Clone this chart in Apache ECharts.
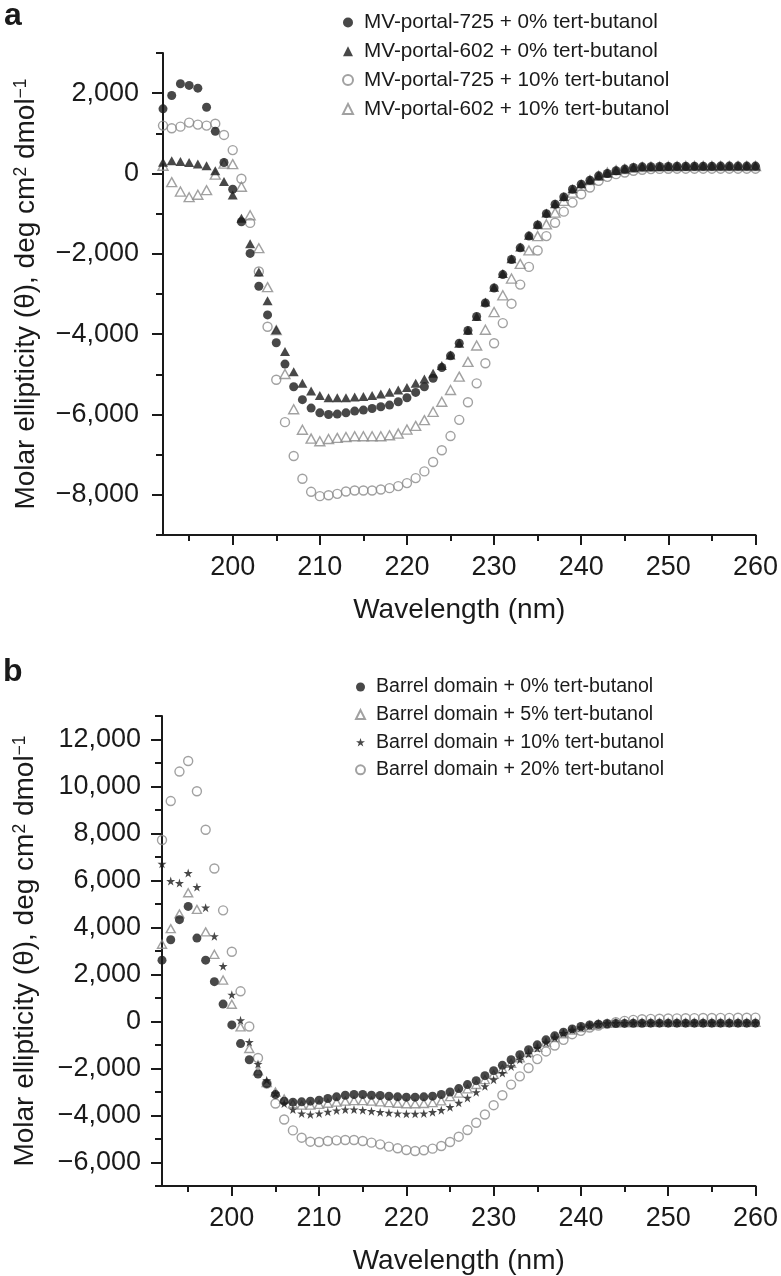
<!DOCTYPE html>
<html><head><meta charset="utf-8">
<script src="https://cdn.jsdelivr.net/npm/echarts@6/dist/echarts.min.js"></script>
<style>html,body{margin:0;padding:0;background:#fff}#c{width:781px;height:1276px}</style>
</head><body><div id="c"></div>
<script>
// ---------- data ----------
const wavelengths = [192,193,194,195,196,197,198,199,200,201,202,203,204,205,206,207,208,209,210,211,
  212,213,214,215,216,217,218,219,220,221,222,223,224,225,226,227,228,229,230,231,
  232,233,234,235,236,237,238,239,240,241,242,243,244,245,246,247,248,249,250,251,
  252,253,254,255,256,257,258,259,260];

const xTickValues = [200,210,220,230,240,250,260];
const xMinorTicks = [195,205,215,225,235,245,255];
const yTicksA = [-8000,-6000,-4000,-2000,0,2000];
const yMinorA = [-9000,-7000,-5000,-3000,-1000,1000,3000];
const yTicksB = [-6000,-4000,-2000,0,2000,4000,6000,8000,10000,12000];
const yMinorB = [-7000,-5000,-3000,-1000,1000,3000,5000,7000,9000,11000,13000];

const namesA = ['MV-portal-725 + 0% tert-butanol','MV-portal-602 + 0% tert-butanol',
  'MV-portal-725 + 10% tert-butanol','MV-portal-602 + 10% tert-butanol'];
const namesB = ['Barrel domain + 0% tert-butanol','Barrel domain + 5% tert-butanol',
  'Barrel domain + 10% tert-butanol','Barrel domain + 20% tert-butanol'];

const portal725_0 = [1610,1943,2235,2193,2125,1650,1050,275,-391,-1200,
  -1990,-2808,-3520,-4215,-4745,-5308,-5630,-5840,-5958,-6000,
  -5990,-5958,-5915,-5890,-5850,-5808,-5765,-5683,-5583,-5450,
  -5308,-5100,-4830,-4540,-4225,-3910,-3560,-3225,-2850,-2516,
  -2141,-1850,-1558,-1283,-1000,-766,-583,-391,-266,-166,
  -58,0,68,110,150,
  165,170,175,175,180,180,180,180,180,185,185,185,185,185];
const portal602_0 = [280,318,300,275,235,193,68,-200,-533,-1115,
  -1750,-2450,-3166,-3890,-4433,-4933,-5225,-5416,-5530,-5580,
  -5583,-5583,-5563,-5550,-5530,-5490,-5445,-5391,-5325,-5225,
  -5117,-4975,-4783,-4516,-4225,-3900,-3560,-3200,-2830,-2490,
  -2120,-1830,-1540,-1265,-985,-750,-570,-380,-255,-160,
  -55,10,75,115,150,
  165,170,175,180,180,180,185,185,185,185,185,185,185,185];
const portal725_10 = [1192,1125,1167,1267,1217,1192,1240,960,583,-130,
  -1230,-2440,-3815,-5135,-6190,-7033,-7600,-7925,-8033,-8010,
  -7975,-7916,-7891,-7891,-7891,-7866,-7833,-7783,-7708,-7583,
  -7416,-7183,-6891,-6537,-6133,-5695,-5225,-4725,-4225,-3725,
  -3241,-2766,-2325,-1916,-1558,-1225,-950,-725,-516,-350,
  -183,-83,-16,25,68,
  92,110,115,118,120,120,120,120,120,120,120,120,120,120];
const portal602_10 = [193,-215,-450,-590,-530,-416,-30,245,233,-330,
  -1040,-1860,-2830,-3900,-4991,-5870,-6380,-6600,-6666,-6610,
  -6583,-6560,-6541,-6541,-6541,-6541,-6516,-6475,-6375,-6283,
  -6141,-5933,-5683,-5391,-5058,-4690,-4283,-3891,-3450,-3033,
  -2616,-2250,-1916,-1558,-1266,-975,-683,-475,-308,-166,
  -58,25,83,110,140,
  160,170,175,180,180,185,185,185,185,185,185,185,185,185];

const barrel_0 = [2610,3480,4335,4898,3550,2610,1695,740,-144,-940,
  -1630,-2232,-2644,-3110,-3390,-3432,-3418,-3390,-3347,-3277,
  -3206,-3136,-3107,-3107,-3136,-3150,-3178,-3206,-3220,-3220,
  -3206,-3178,-3107,-3000,-2856,-2686,-2516,-2305,-2093,-1867,
  -1627,-1415,-1204,-992,-781,-610,-455,-314,-215,-145,
  -116,
  -95,-85,-80,-75,-75,-70,-70,-70,-70,-70,-70,-70,-70,-70,-70,-70,-70,-70];
const barrel_5 = [3288,3953,4576,5479,4771,3813,2860,1763,733,-230,
  -1150,-2100,-2600,-3000,-3300,-3500,-3560,-3560,-3530,-3480,
  -3430,-3390,-3370,-3370,-3390,-3420,-3450,-3480,-3500,-3500,
  -3490,-3450,-3380,-3200,-3050,-2870,-2680,-2470,-2250,-2020,
  -1780,-1550,-1320,-1100,-880,-690,-520,-370,-260,-170,
  -110,
  -80,-60,-50,-45,-40,-40,-40,-40,-40,-40,-40,-40,-40,-40,-40,-40,-40,-40];
const barrel_10 = [6708,5975,5890,6314,5720,4843,3627,2356,1140,50,
  -880,-1810,-2500,-3060,-3490,-3745,-3915,-3957,-3915,-3843,
  -3787,-3745,-3745,-3773,-3815,-3858,-3886,-3915,-3930,-3930,
  -3915,-3858,-3773,-3646,-3462,-3250,-3010,-2756,-2474,-2192,
  -1910,-1627,-1373,-1133,-893,-681,-497,-356,-257,-172,
  -110,
  -80,-70,-65,-60,-60,-60,-60,-60,-60,-60,-60,-60,-60,-60,-60,-60,-60,-60];
const barrel_20 = [7725,9380,10636,11085,9800,8161,6510,4729,2966,1285,
  -212,-1554,-2644,-3490,-4169,-4635,-4944,-5114,-5128,-5086,
  -5058,-5044,-5044,-5086,-5156,-5227,-5326,-5396,-5467,-5509,
  -5481,-5410,-5298,-5128,-4902,-4620,-4310,-3957,-3561,-3138,
  -2686,-2333,-1980,-1599,-1274,-1020,-781,-540,-398,-257,
  -172,-102,-31,25,68,96,
  110,120,130,135,140,145,150,150,155,155,160,160,165];

// ---------- styling ----------
const FONT = '"Liberation Sans", Arial, Helvetica, sans-serif';
const INK = '#1a1a1a';
const GRAY = '#8a8a8a';
const STAR = 'path://M50,0 L61.2,34.5 L97.6,34.5 L68.2,55.9 L79.4,90.5 L50,69.1 L20.6,90.5 L31.8,55.9 L2.4,34.5 L38.8,34.5 Z';

const pts = arr => wavelengths.map((w, i) => [w, arr[i]]);
const fmtY = v => v === 0 ? '0' : (v < 0 ? '\u2212' : '') + Math.abs(v).toLocaleString('en-US');

const axisLine = { show: true, onZero: false, lineStyle: { color: INK, width: 2 } };

function xAxes(gi) {
  return [
    { gridIndex: gi, type: 'value', min: 192, max: 260, position: 'bottom',
      axisLine: axisLine, splitLine: { show: false },
      axisTick: { customValues: xTickValues, length: 10, lineStyle: { color: INK, width: 2 } },
      axisLabel: { customValues: xTickValues, fontSize: 27, color: INK, fontFamily: FONT, margin: 19 },
      name: 'Wavelength (nm)', nameLocation: 'middle', nameGap: 61,
      nameTextStyle: { fontSize: 28, color: INK, fontFamily: FONT } },
    { gridIndex: gi, type: 'value', min: 192, max: 260, position: 'bottom',
      axisLine: { show: false, onZero: false }, splitLine: { show: false },
      axisTick: { customValues: xMinorTicks, length: 6, lineStyle: { color: INK, width: 2 } },
      axisLabel: { show: false } }
  ];
}
function yAxes(gi, min, max, ticks, minor, margin) {
  return [
    { gridIndex: gi, type: 'value', min: min, max: max, position: 'left',
      axisLine: axisLine, splitLine: { show: false },
      axisTick: { customValues: ticks, length: 11, lineStyle: { color: INK, width: 2 } },
      axisLabel: { customValues: ticks, formatter: fmtY, fontSize: 27, color: INK, fontFamily: FONT, margin: margin },
      name: '{t|Molar ellipticity (\u03b8), deg cm}{s|2}{t| dmol}{s|\u22121}',
      nameLocation: 'middle', nameGap: 123,
      nameTextStyle: { fontSize: 28, color: INK, fontFamily: FONT,
        rich: { t: { fontSize: 28, color: INK, fontFamily: FONT },
                s: { fontSize: 17.5, color: INK, fontFamily: FONT, verticalAlign: 'top' } } } },
    { gridIndex: gi, type: 'value', min: min, max: max, position: 'left',
      axisLine: { show: false, onZero: false }, splitLine: { show: false },
      axisTick: { customValues: minor, length: 7, lineStyle: { color: INK, width: 2 } },
      axisLabel: { show: false } }
  ];
}

function sc(name, data, xi, yi, symbol, size, filled, z) {
  return {
    type: 'scatter', name: name, data: pts(data), xAxisIndex: xi, yAxisIndex: yi,
    symbol: symbol, symbolSize: size, z: z,
    itemStyle: filled ? { color: INK, borderWidth: 0 }
                      : { color: 'rgba(255,255,255,0)', borderColor: GRAY, borderWidth: 1.4 },
    emphasis: { disabled: true }
  };
}

const option = {
  animation: false,
  backgroundColor: '#fff',
  grid: [
    { left: 163, top: 53, width: 597, height: 482 },
    { left: 162, top: 716, width: 598, height: 472 }
  ],
  xAxis: [...xAxes(0), ...xAxes(1)],
  yAxis: [...yAxes(0, -9000, 3000, yTicksA, yMinorA, 24), ...yAxes(1, -7000, 13000, yTicksB, yMinorB, 21)],
  legend: [
    { data: namesA, orient: 'vertical', left: 342, top: 12, padding: 0, itemWidth: 10, itemHeight: 10, itemGap: 7.8,
      textStyle: { fontSize: 20.7, color: INK, fontFamily: FONT, padding: [0, 0, 0, 6] }, selectedMode: false },
    { data: namesB, orient: 'vertical', left: 355, top: 677, padding: 0, itemWidth: 9, itemHeight: 9, itemGap: 7.6,
      textStyle: { fontSize: 19.6, color: INK, fontFamily: FONT, padding: [0, 0, 0, 6] }, selectedMode: false }
  ],
  graphic: [
    { type: 'text', left: 4, top: 0, style: { text: 'a', font: 'bold 32px ' + FONT, fill: INK } },
    { type: 'text', left: 3, top: 656, style: { text: 'b', font: 'bold 32px ' + FONT, fill: INK } }
  ],
  series: [
    sc(namesA[2], portal725_10, 0, 0, 'circle', 9, false, 2),
    sc(namesA[3], portal602_10, 0, 0, 'triangle', [10, 9], false, 2),
    sc(namesA[1], portal602_0, 0, 0, 'triangle', [10, 9], true, 3),
    sc(namesA[0], portal725_0, 0, 0, 'circle', 9, true, 3),
    sc(namesB[3], barrel_20, 2, 2, 'circle', 9, false, 2),
    sc(namesB[1], barrel_5, 2, 2, 'triangle', [9, 8], false, 2),
    sc(namesB[2], barrel_10, 2, 2, STAR, 9, true, 3),
    sc(namesB[0], barrel_0, 2, 2, 'circle', 9, true, 3)
  ]
};

const chart = echarts.init(document.getElementById('c'), null, { renderer: 'canvas' });
chart.setOption(option);
</script>
</body></html>
